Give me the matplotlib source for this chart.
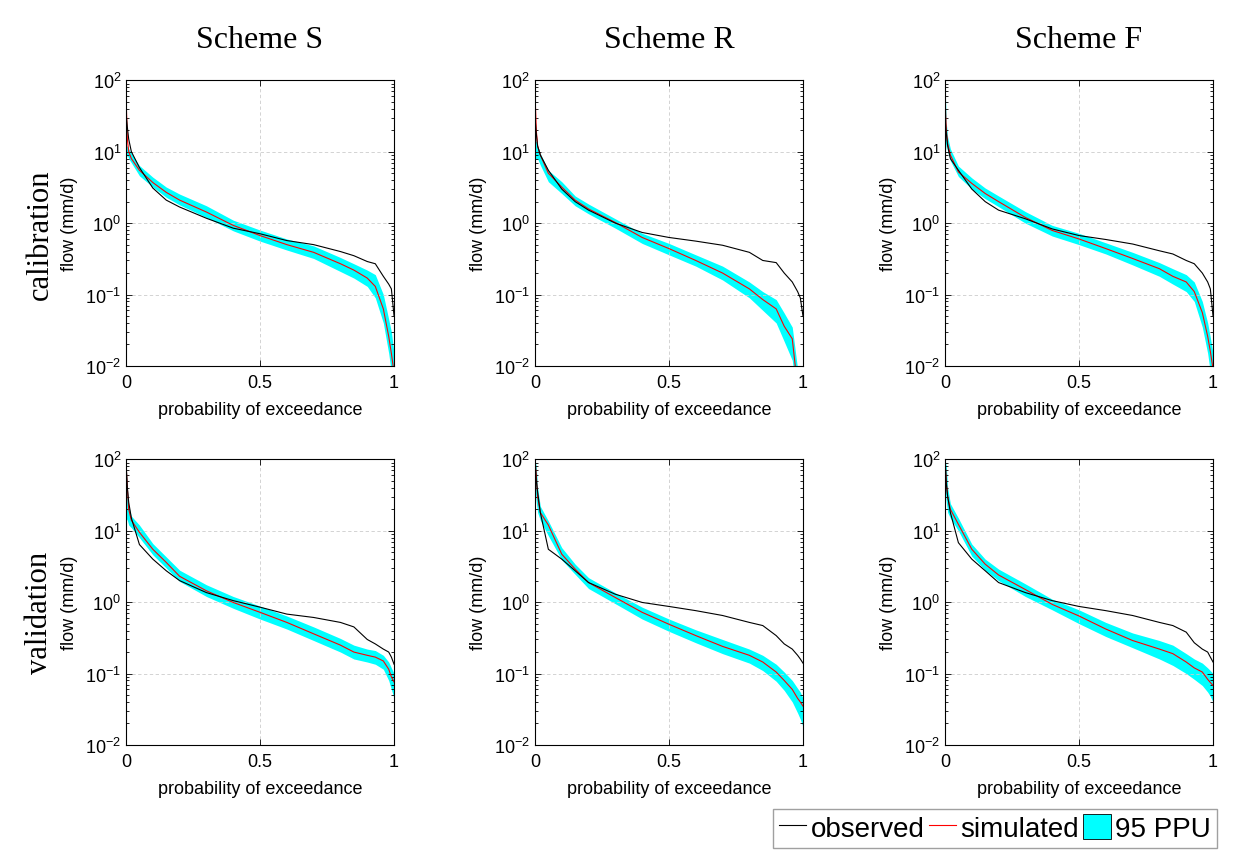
import numpy as np
import matplotlib
matplotlib.use("Agg")
import matplotlib.pyplot as plt
from matplotlib.lines import Line2D
from matplotlib.patches import Patch
from matplotlib.ticker import LogLocator, NullFormatter

plt.rcParams['font.family'] = ['Liberation Sans', 'DejaVu Sans']
plt.rcParams['mathtext.fontset'] = 'custom'
plt.rcParams['mathtext.rm'] = 'Liberation Sans'
plt.rcParams['mathtext.it'] = 'Liberation Sans:italic'
plt.rcParams['mathtext.bf'] = 'Liberation Sans:bold'

# probability of exceedance grid used when reading the curves off the figure
prob = [0, 0.005, 0.01, 0.02, 0.05, 0.1, 0.15, 0.2, 0.3, 0.4, 0.5,
        0.6, 0.7, 0.8, 0.85, 0.9, 0.93, 0.96, 0.98, 0.99, 1.0]

schemes = ["Scheme S", "Scheme R", "Scheme F"]
periods = ["calibration", "validation"]

# ---- calibration ----
obs_cal_S = [35, 22, 15, 10, 6.0, 3.1, 2.1, 1.68, 1.17, 0.85, 0.71,
             0.57, 0.50, 0.40, 0.35, 0.29, 0.27, 0.18, 0.14, 0.12, 0.05]
sim_cal_S = [60, 15, 10, 8, 5.5, 3.7, 2.7, 2.1, 1.43, 0.93, 0.67,
             0.50, 0.39, 0.27, 0.22, 0.17, 0.13, 0.063, 0.026, 0.015, 0.008]
lo_cal_S = [8, 9, 8, 7, 4.6, 3.2, 2.3, 1.8, 1.2, 0.78, 0.56,
            0.42, 0.32, 0.21, 0.17, 0.13, 0.09, 0.04, 0.015, 0.008, 0.005]
hi_cal_S = [12, 12, 11, 9.5, 6.4, 4.4, 3.2, 2.55, 1.75, 1.1, 0.80,
            0.60, 0.48, 0.33, 0.27, 0.22, 0.19, 0.10, 0.045, 0.03, 0.015]

obs_cal_R = [31, 18, 12, 9, 5.5, 3.0, 2.0, 1.52, 1.0, 0.74, 0.63,
             0.56, 0.49, 0.39, 0.30, 0.28, 0.20, 0.15, 0.11, 0.09, 0.05]
sim_cal_R = [70, 20, 12, 9, 5.0, 3.2, 2.1, 1.58, 1.02, 0.63, 0.44,
             0.30, 0.20, 0.12, 0.085, 0.063, 0.036, 0.024, 0.005, 0.003, 0.002]
lo_cal_R = [8, 8, 8, 6.5, 3.8, 2.6, 1.75, 1.35, 0.85, 0.52, 0.36,
            0.25, 0.16, 0.09, 0.06, 0.04, 0.022, 0.012, 0.003, 0.002, 0.001]
hi_cal_R = [14, 14, 12, 9.5, 5.5, 3.8, 2.4, 1.85, 1.15, 0.72, 0.52,
            0.36, 0.25, 0.15, 0.11, 0.085, 0.055, 0.035, 0.009, 0.006, 0.004]

obs_cal_F = [30, 18, 12, 8, 5.5, 3.0, 2.0, 1.52, 1.15, 0.83, 0.67,
             0.59, 0.51, 0.41, 0.37, 0.30, 0.27, 0.20, 0.15, 0.12, 0.05]
sim_cal_F = [60, 20, 13, 9, 5.2, 3.6, 2.6, 2.0, 1.2, 0.79, 0.60,
             0.44, 0.32, 0.23, 0.18, 0.15, 0.11, 0.056, 0.026, 0.016, 0.009]
lo_cal_F = [9, 13, 10, 7.5, 4.5, 3.0, 2.2, 1.7, 1.0, 0.66, 0.50,
            0.37, 0.26, 0.18, 0.14, 0.11, 0.08, 0.035, 0.015, 0.008, 0.005]
hi_cal_F = [90, 25, 16, 11, 6.3, 4.3, 3.1, 2.4, 1.45, 0.93, 0.72,
            0.53, 0.39, 0.28, 0.23, 0.19, 0.15, 0.08, 0.04, 0.025, 0.015]

# ---- validation ----
obs_val_S = [85, 40, 25, 15, 6.4, 4.0, 2.75, 2.0, 1.36, 1.05, 0.85,
             0.68, 0.61, 0.52, 0.45, 0.30, 0.26, 0.22, 0.20, 0.17, 0.135]
sim_val_S = [90, 40, 20, 14, 9.5, 5.5, 3.6, 2.3, 1.44, 0.99, 0.72,
             0.52, 0.36, 0.25, 0.20, 0.18, 0.17, 0.15, 0.115, 0.09, 0.076]
lo_val_S = [15, 14, 12, 11, 8, 4.6, 3.0, 1.95, 1.2, 0.82, 0.58,
            0.42, 0.29, 0.20, 0.16, 0.145, 0.135, 0.115, 0.08, 0.06, 0.045]
hi_val_S = [95, 40, 22, 16, 12, 6.6, 4.3, 2.8, 1.75, 1.2, 0.88,
            0.64, 0.45, 0.31, 0.25, 0.22, 0.21, 0.18, 0.145, 0.12, 0.10]

obs_val_R = [100, 50, 35, 18, 5.5, 4.0, 2.75, 1.88, 1.29, 0.99, 0.87,
             0.76, 0.65, 0.52, 0.47, 0.34, 0.26, 0.22, 0.18, 0.16, 0.14]
sim_val_R = [100, 60, 30, 18, 12, 4.7, 2.9, 1.88, 1.16, 0.72, 0.49,
             0.34, 0.24, 0.18, 0.145, 0.105, 0.08, 0.06, 0.045, 0.04, 0.035]
lo_val_R = [40, 25, 18, 14, 8.5, 3.9, 2.45, 1.55, 0.95, 0.58, 0.39,
            0.27, 0.19, 0.14, 0.11, 0.078, 0.058, 0.04, 0.028, 0.023, 0.018]
hi_val_R = [100, 80, 40, 22, 13.7, 5.8, 3.4, 2.2, 1.35, 0.85, 0.58,
            0.41, 0.30, 0.22, 0.18, 0.135, 0.105, 0.08, 0.062, 0.055, 0.045]

obs_val_F = [100, 45, 30, 18, 6.8, 4.0, 2.75, 1.88, 1.36, 1.05, 0.87,
             0.76, 0.65, 0.52, 0.47, 0.38, 0.27, 0.22, 0.20, 0.17, 0.145]
sim_val_F = [100, 50, 30, 20, 12.3, 5.5, 3.4, 2.4, 1.5, 0.93, 0.64,
             0.42, 0.29, 0.22, 0.19, 0.145, 0.12, 0.105, 0.083, 0.075, 0.068]
lo_val_F = [40, 25, 18, 15, 10, 4.4, 2.8, 2.0, 1.2, 0.78, 0.50,
            0.33, 0.23, 0.16, 0.13, 0.10, 0.083, 0.068, 0.055, 0.048, 0.04]
hi_val_F = [100, 80, 40, 24, 15, 6.5, 4.0, 2.9, 1.8, 1.1, 0.78,
            0.52, 0.37, 0.29, 0.25, 0.19, 0.16, 0.14, 0.12, 0.11, 0.10]

panels = [
    [(obs_cal_S, sim_cal_S, lo_cal_S, hi_cal_S),
     (obs_cal_R, sim_cal_R, lo_cal_R, hi_cal_R),
     (obs_cal_F, sim_cal_F, lo_cal_F, hi_cal_F)],
    [(obs_val_S, sim_val_S, lo_val_S, hi_val_S),
     (obs_val_R, sim_val_R, lo_val_R, hi_val_R),
     (obs_val_F, sim_val_F, lo_val_F, hi_val_F)],
]

band_color = '#00FFFF'
fig = plt.figure(figsize=(12.49, 8.54), dpi=100)

lefts = [0.1009, 0.4283, 0.7566]
bottoms = [0.5703, 0.1265]
w, h = 0.2146, 0.3345

for r in range(2):
    for c in range(3):
        ax = fig.add_axes([lefts[c], bottoms[r], w, h])
        obs, sim, lo, hi = panels[r][c]
        ax.fill_between(prob, lo, hi, color=band_color, linewidth=0, zorder=1)
        ax.plot(prob, obs, color='black', lw=0.8, zorder=3)
        ax.plot(prob, sim, color='red', lw=0.8, zorder=2)
        ax.set_yscale('log')
        ax.set_xlim(0, 1)
        ax.set_ylim(1e-2, 1e2)
        ax.set_xticks([0, 0.5, 1])
        ax.set_xticklabels(['0', '0.5', '1'])
        ax.set_yticks([1e-2, 1e-1, 1e0, 1e1, 1e2])
        ax.yaxis.set_minor_locator(LogLocator(base=10, subs=np.arange(2, 10)))
        ax.yaxis.set_minor_formatter(NullFormatter())
        ax.tick_params(which='both', direction='in', top=True, right=True,
                       labelsize=13, width=0.6)
        ax.tick_params(which='major', length=4)
        ax.tick_params(which='minor', length=2)
        ax.tick_params(axis='x', pad=6)
        ax.grid(True, which='major', color='#cccccc', ls=(0, (4, 3)), lw=0.6)
        for s in ax.spines.values():
            s.set_linewidth(0.8)
        ax.set_xlabel('probability of exceedance', fontsize=13, labelpad=7)
        ax.set_ylabel('flow (mm/d)', fontsize=13, labelpad=5)
        if r == 0:
            ax.set_title(schemes[c], fontsize=23, family='Liberation Serif', pad=24)

for r in range(2):
    yc = bottoms[r] + h / 2
    fig.text(0.032, yc - 0.012, periods[r], rotation=90, fontsize=22,
             family='Liberation Serif', ha='center', va='center')

handles = [Line2D([], [], color='black', lw=0.8),
           Line2D([], [], color='red', lw=0.8),
           Patch(facecolor=band_color, edgecolor='black', lw=0.6)]
leg = fig.legend(handles, ['observed', 'simulated', '95 PPU'], ncol=3,
                 loc='lower right', bbox_to_anchor=(0.974, 0.006),
                 fontsize=20, frameon=True, fancybox=False, edgecolor='#888888',
                 handlelength=1.0, handleheight=1.0, handletextpad=0.15,
                 columnspacing=0.15, borderpad=0.2, borderaxespad=0.0)
leg.get_frame().set_linewidth(1.0)

fig.savefig('out.png', dpi=100, facecolor='white')
